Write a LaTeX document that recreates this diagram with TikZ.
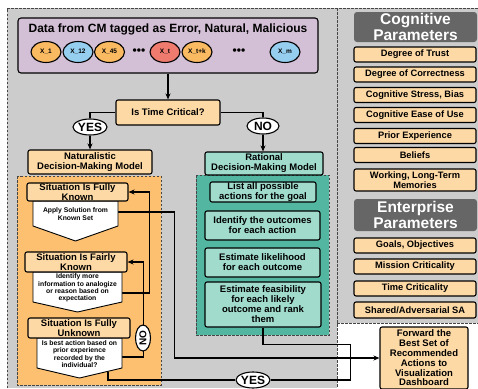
\documentclass[tikz,border=0pt]{standalone}
\usepackage{fontspec}
\setmainfont{Liberation Sans}
\usetikzlibrary{arrows.meta,shapes.geometric,calc}
\newcommand\myfs[2]{\fontsize{#1}{#2}\selectfont\bfseries}
\definecolor{bggray}{RGB}{204,204,204}
\definecolor{purp}{RGB}{212,192,214}
\definecolor{lorange}{RGB}{253,217,166}
\definecolor{orangereg}{RGB}{252,192,112}
\definecolor{corange}{RGB}{250,186,98}
\definecolor{cblue}{RGB}{150,206,240}
\definecolor{cred}{RGB}{239,122,110}
\definecolor{tealreg}{RGB}{82,182,160}
\definecolor{lteal}{RGB}{160,219,204}
\definecolor{dgray}{RGB}{102,102,102}
\definecolor{regline}{RGB}{70,70,70}
\pgfdeclarelayer{back}
\pgfdeclarelayer{lines}
\pgfsetlayers{back,lines,main}
\begin{document}
\begin{tikzpicture}[x=1pt,y=-1pt,
  conn/.style={line width=1.2pt, draw=black},
  arr/.style={-{Stealth[length=6pt,width=5pt]}},
  box/.style={draw=black, line width=1.1pt, rounded corners=2pt, align=center, inner sep=0pt},
  regb/.style={draw=regline, line width=0.8pt, dash pattern=on 2.5pt off 1.5pt},
  circ/.style={ellipse, draw=black, line width=1.1pt, minimum width=30pt, minimum height=21pt, inner sep=0pt, font=\myfs{6.5}{7}},
  oval/.style={ellipse, draw=black, fill=white, line width=1.1pt, inner sep=0pt, minimum width=32pt, minimum height=16pt, font=\myfs{12}{12}},
  itm/.style={box, fill=lorange, minimum width=122pt, minimum height=15pt, font=\myfs{9.3}{10}},
  hdr/.style={fill=dgray, rounded corners=3pt, text=white, align=center, inner sep=0pt, minimum width=123pt, font=\myfs{15.5}{16}},
  obox/.style={box, fill=lorange, font=\myfs{9.5}{10}},
  tbox/.style={box, fill=lteal, font=\myfs{9.5}{10}},
  pent/.style={fill=white, draw=black, line width=0.9pt, line join=round},
  ptext/.style={align=center, inner sep=0pt, font=\myfs{6.8}{7.3}},
  dotj/.style={fill=black},
  dots/.style={font=\myfs{12}{12}, inner sep=0pt}
]
\useasboundingbox (0,0) rectangle (478,388);
% ---------- background regions
\begin{pgfonlayer}{back}
\fill[bggray] (7,8) rectangle (478,323);
\fill[bggray] (7,323) rectangle (337,388);
\draw[regb] (7,388) -- (7,8) -- (478,8);
\draw[regb] (337,8) -- (337,388);
\draw[regb] (337,323) -- (478,323);
\filldraw[fill=orangereg, regb] (17,176) rectangle (161,385);
\filldraw[fill=tealreg, regb] (196,175) rectangle (329,335);
\end{pgfonlayer}

% ---------- data box
\node[box, fill=purp, minimum width=300pt, minimum height=55pt, rounded corners=3pt] (data) at (168,45.5) {};
\node[font=\myfs{12}{12}, inner sep=0pt] (title) at (168,29) {Data from CM tagged as Error, Natural, Malicious};
\node[circ, fill=corange] (c1) at (46,52) {X\_1};
\node[circ, fill=cblue] (c2) at (78,52) {X\_12};
\node[circ, fill=corange] (c3) at (109.5,52) {X\_45};
\node[dots] (d1) at (139,52) {•••};
\node[circ, fill=cred] (c4) at (165,52) {X\_t};
\node[circ, fill=corange] (c5) at (197,52) {X\_t+k};
\node[dots] (d2) at (239,52) {•••};
\node[circ, fill=cblue] (c6) at (285,52) {X\_m};

% ---------- decision
\node[obox, minimum width=104pt, minimum height=25pt] (tc) at (168,112.5) {Is Time Critical?};
\node[oval] (yes1) at (90,127) {YES};
\node[oval] (no1) at (263,126) {NO};
\node[obox, minimum width=124pt, minimum height=24pt] (nat) at (90,162) {Naturalistic\\Decision-Making Model};
\node[tbox, minimum width=118pt, minimum height=23pt] (rat) at (264,163.5) {Rational\\Decision-Making Model};

% ---------- naturalistic column
\filldraw[pent] (33,201) -- (118,201) -- (118,226) -- (75.5,241) -- (33,226) -- cycle;
\filldraw[pent] (33,272) -- (122,272) -- (122,302) -- (77.5,312) -- (33,302) -- cycle;
\filldraw[pent] (37,338) -- (122,338) -- (122,368) -- (79.5,378) -- (37,368) -- cycle;
\node[ptext, minimum width=85pt, minimum height=25pt] (p1) at (75.5,214) {Apply Solution from\\Known Set};
\node[ptext, minimum width=89pt, minimum height=30pt] (p2) at (77.5,288) {Identify more\\information to analogize\\or reason based on\\expectation};
\node[ptext, minimum width=85pt, minimum height=30pt] (p3) at (79.5,354) {Is best action based on\\prior experience\\recorded by the\\individual?};
\node[obox, minimum width=101pt, minimum height=18pt] (h1) at (77.5,192) {Situation Is Fully\\Known};
\node[obox, minimum width=102pt, minimum height=20pt] (h2) at (76,262) {Situation Is Fairly\\Known};
\node[obox, minimum width=102pt, minimum height=20pt] (h3) at (79,328) {Situation Is Fully\\Unknown};
\node[oval, rotate=90, minimum width=26pt, minimum height=15pt, font=\myfs{10}{10}] (no2) at (143,338) {NO};

% ---------- rational column
\node[tbox, minimum width=106pt, minimum height=20pt] (t1) at (263,192) {List all possible\\actions for the goal};
\node[tbox, minimum width=115pt, minimum height=29pt] (t2) at (262.5,225.5) {Identify the outcomes\\for each action};
\node[tbox, minimum width=115pt, minimum height=29pt] (t3) at (262.5,262.5) {Estimate likelihood\\for each outcome};
\node[tbox, minimum width=116pt, minimum height=45pt] (t4) at (263,304.5) {Estimate feasibility\\for each likely\\outcome and rank\\them};

% ---------- forward box
\node[obox, minimum width=88pt, minimum height=62pt, font=\myfs{9.5}{9.8}] (fwd) at (424,358) {Forward the\\Best Set of\\Recommended\\Actions to\\Visualization\\Dashboard};
\node[oval] (yes2) at (253,380) {YES};

% ---------- right panel
\node[hdr, minimum height=30pt] (cogh) at (415.5,27) {Cognitive\\Parameters};
\node[itm] (i1) at (415,54.5) {Degree of Trust};
\node[itm] (i2) at (415,74.5) {Degree of Correctness};
\node[itm] (i3) at (415,95) {Cognitive Stress, Bias};
\node[itm] (i4) at (415,115) {Cognitive Ease of Use};
\node[itm] (i5) at (415,136) {Prior Experience};
\node[itm] (i6) at (415,155) {Beliefs};
\node[itm, minimum height=22pt] (i7) at (415,180) {Working, Long-Term\\Memories};
\node[hdr, minimum height=32pt] (enth) at (415.5,215) {Enterprise\\Parameters};
\node[itm] (e1) at (415,245.5) {Goals, Objectives};
\node[itm] (e2) at (415,266.5) {Mission Criticality};
\node[itm] (e3) at (415,288.5) {Time Criticality};
\node[itm, minimum height=16pt] (e4) at (415,310) {Shared/Adversarial SA};

% ---------- connectors
\coordinate (v1) at ($(p2.east)+(27,5)$);
\coordinate (v2) at ($(p3.east)+(21,3)$);
\coordinate (m) at ($(fwd.west)+(-29,0)$);
\begin{pgfonlayer}{lines}
\draw[conn, arr] (data.south) -- (tc.north);
\draw[conn] (tc.west) -| (yes1.north);
\draw[conn, arr] (yes1.south) -- (yes1.south |- nat.north);
\draw[conn] (tc.east) -| (no1.north);
\draw[conn, arr] (no1.south) -- (no1.south |- rat.north);
\draw[conn, arr] (p1.east) ++(0,-2) -- ++(56,0) |- (fwd.west);
\draw[conn, arr] (p2.east) ++(0,5) -- (v1) |- (h1.east);
\draw[conn, arr] (p3.east) ++(0,3) -- (v2) |- (h2.east);
\draw[conn] ($(p3.south)+(28.5,2.3)$) |- (yes2.west);
\draw[conn] (yes2.east) -| (m);
\draw[conn] (t4.south) -- ++(0,17) -| (m);
\fill[dotj] (v1 |- 0,212) circle (1.6pt);
\fill[dotj] (v2 |- v1) circle (1.6pt);
\fill[dotj] (m) circle (1.6pt);
\end{pgfonlayer}
\end{tikzpicture}
\end{document}
